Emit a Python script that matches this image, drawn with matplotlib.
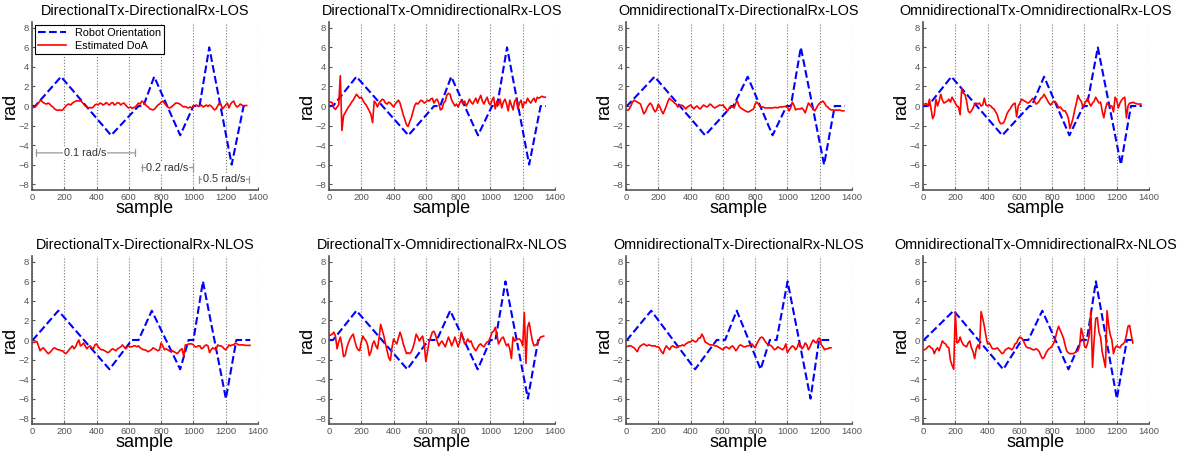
import matplotlib
matplotlib.use('Agg')
import matplotlib.pyplot as plt
import numpy as np

plt.rcParams['font.family'] = ['Liberation Sans', 'DejaVu Sans']

titles = [
    "DirectionalTx-DirectionalRx-LOS", "DirectionalTx-OmnidirectionalRx-LOS",
    "OmnidirectionalTx-DirectionalRx-LOS", "OmnidirectionalTx-OmnidirectionalRx-LOS",
    "DirectionalTx-DirectionalRx-NLOS", "DirectionalTx-OmnidirectionalRx-NLOS",
    "OmnidirectionalTx-DirectionalRx-NLOS", "OmnidirectionalTx-OmnidirectionalRx-NLOS",
]

# Robot orientation breakpoints (sample, rad)
orient_y = [0, 0, 3, -3, 0, 0, 3, -3, 0, 0, 6, -6, 0, 0]
orient_x1 = [0, 20, 180, 490, 660, 690, 757, 918, 1000, 1038, 1098, 1237, 1311, 1335]
orient_x2 = [0, 25, 170, 492, 651, 689, 757, 923, 1010, 1041, 1103, 1240, 1311, 1342]
orient_x3 = [0, 6, 177, 490, 655, 665, 754, 908, 995, 1021, 1083, 1227, 1293, 1355]
orient_x4 = [0, 31, 176, 491, 659, 673, 750, 907, 994, 1015, 1083, 1226, 1288, 1355]
orient_x5 = [0, 5, 163, 480, 618, 660, 742, 918, 970, 1000, 1059, 1201, 1266, 1352]
orient_x6 = [0, 25, 170, 485, 616, 668, 751, 921, 1000, 1031, 1093, 1232, 1296, 1325]
orient_x7 = [0, 6, 156, 428, 562, 614, 686, 834, 891, 933, 1001, 1143, 1196, 1272]
orient_x8 = [0, 5, 190, 497, 611, 652, 739, 901, 980, 1015, 1071, 1201, 1263, 1294]

# Estimated DoA (rad), one value every 10 samples
DOA_STEP = 10
doa1 = [-0.2,-0.15,-0.1,0.1,0.3,0.55,0.5,0.35,0.25,0.2,
        0.3,0.2,0.0,-0.1,-0.3,-0.4,-0.45,-0.4,-0.45,-0.4,
        -0.2,0.0,0.15,0.2,0.1,0.3,0.4,0.5,0.55,0.5,
        0.55,0.4,0.2,0.0,-0.1,-0.2,-0.15,-0.2,-0.1,0.1,
        0.2,0.1,0.3,0.25,0.1,0.2,0.35,0.2,0.1,0.3,
        0.35,0.1,0.2,0.35,0.3,0.1,0.25,0.3,0.1,-0.1,
        -0.2,-0.1,-0.25,-0.15,-0.1,0.1,0.3,0.2,0.5,0.4,
        0.2,0.0,-0.1,-0.3,-0.35,-0.4,-0.3,-0.1,0.1,0.2,
        0.4,0.5,0.3,0.1,-0.1,-0.2,-0.15,0.0,0.15,0.3,
        0.3,0.25,0.15,0.0,-0.1,-0.05,-0.15,-0.2,-0.1,-0.2,
        0.0,0.05,0.1,-0.05,0.0,0.1,-0.1,0.0,0.1,-0.05,
        0.1,0.0,-0.2,-0.4,-0.3,0.0,0.3,0.2,-0.3,-0.1,
        0.1,0.3,-0.2,0.2,0.4,0.5,0.1,-0.1,0.0,0.2,
        0.1,0.0,0.05,0.05]
doa2 = [0.45,0.4,0.35,-0.2,-0.35,-0.1,0.1,3.1,-2.5,-1.0,
        -0.7,-0.4,-0.1,0.1,0.4,0.6,0.9,1.2,1.0,0.8,
        0.9,0.6,0.3,0.1,-0.2,-0.5,-0.9,-1.7,0.5,0.3,
        -0.1,0.3,0.5,0.7,0.6,0.3,0.2,0.4,0.3,0.1,
        -0.1,0.2,0.4,0.6,0.3,-0.3,-0.9,-1.4,-1.9,-2.1,
        -1.6,-1.2,-0.6,0.0,0.3,0.2,0.4,0.6,0.5,0.3,
        0.4,0.6,0.5,0.7,0.8,0.3,0.6,0.7,0.3,-0.4,
        -0.3,0.3,0.5,1.1,1.3,1.2,0.6,0.3,0.0,0.2,
        -0.1,0.3,0.6,0.2,0.5,0.0,0.3,0.7,0.4,0.2,
        0.5,0.8,0.3,0.7,1.1,0.5,0.2,0.6,0.9,0.3,
        0.1,0.6,0.9,-0.3,0.5,0.1,0.7,-0.2,0.4,0.7,
        0.2,-0.5,0.6,0.1,-0.4,0.5,0.7,-0.3,0.3,0.6,
        -0.2,0.4,0.3,0.8,0.5,0.3,0.6,0.8,0.4,0.9,
        0.8,0.9,1.0,0.9,0.9]
doa3 = [-0.4,-0.45,-0.3,0.0,0.4,0.6,0.5,0.4,0.3,0.2,
        -0.3,-0.8,-0.6,-0.2,0.1,0.3,0.1,-0.3,-0.6,-0.4,
        0.2,-0.1,-0.5,-0.8,-0.4,0.0,0.5,0.8,0.6,0.5,
        0.3,0.2,-0.1,0.0,0.1,0.05,-0.1,-0.3,-0.1,0.0,
        0.1,-0.1,-0.3,-0.1,0.0,-0.2,-0.3,-0.1,0.1,0.0,
        -0.1,0.0,0.2,0.1,-0.1,-0.2,-0.1,0.0,0.1,0.05,
        0.1,-0.1,-0.3,-0.5,-0.2,0.0,-0.1,-0.2,0.3,0.5,
        0.0,-0.2,-0.3,-0.4,-0.5,-0.6,-0.6,-0.5,-0.4,-0.3,
        0.2,0.4,0.2,0.0,-0.1,-0.1,-0.2,-0.2,-0.2,-0.2,
        -0.2,-0.2,-0.15,-0.15,-0.2,-0.1,-0.1,-0.1,-0.05,-0.05,
        -0.1,-0.5,-0.2,0.4,0.1,-0.4,-0.3,-0.3,-0.3,-0.2,
        -0.4,-0.7,-0.2,0.3,0.1,-0.1,-0.3,-0.5,-0.2,0.1,
        0.3,0.4,0.5,0.3,0.0,-0.1,-0.3,-0.4,-0.4,-0.45,
        -0.4,-0.45,-0.4,-0.45,-0.5,-0.5]
doa4 = [0.2,0.2,0.25,0.0,0.7,-0.3,-1.3,-0.9,0.7,0.0,
        0.5,1.2,0.6,0.3,0.4,0.5,0.7,0.4,0.9,0.6,
        0.3,0.0,-0.1,-0.9,1.8,1.3,1.2,0.5,-0.5,-0.7,
        -0.5,-0.2,0.2,0.3,0.2,0.3,0.0,0.1,0.8,0.1,
        0.0,0.1,0.0,-0.2,-0.3,-0.6,-0.9,-1.5,-1.8,-1.8,
        -1.7,-1.3,-0.8,-0.5,-0.3,0.0,0.2,0.3,-1.1,0.0,
        0.3,0.7,0.6,0.5,0.4,0.3,0.4,0.6,0.8,0.5,
        0.2,0.3,0.5,0.8,0.9,1.2,0.9,0.6,0.3,0.1,
        0.3,0.5,0.4,0.2,-0.2,-0.1,-0.3,-0.5,-0.5,-0.8,
        -1.2,-2.3,-1.8,-1.2,-0.4,0.3,1.1,0.7,0.5,-0.1,
        0.2,0.5,0.8,0.3,0.0,0.3,0.5,0.9,0.6,0.3,
        0.4,-0.5,-1.2,-0.3,0.3,0.1,0.0,0.0,-0.6,0.9,
        0.6,-0.2,0.3,0.6,0.8,0.9,-1.2,0.0,0.3,0.3,
        0.4,0.3,0.25,0.2,0.2,0.2]
doa5 = [-0.3,-0.25,-0.2,-0.15,-0.6,-1.1,-0.9,-0.8,-1.0,-1.2,
        -1.4,-1.3,-1.1,-0.9,-0.8,-0.9,-1.0,-1.0,-1.1,-1.1,
        -1.3,-1.4,-1.2,-1.0,-0.8,-0.6,-0.9,-0.7,-0.3,0.0,
        -0.6,-0.5,-0.3,-0.6,-0.9,-0.7,-0.6,-0.8,-0.9,-0.5,
        -0.4,-0.7,-0.9,-1.0,-1.0,-1.1,-1.2,-1.3,-1.2,-1.0,
        -0.9,-1.0,-1.1,-0.9,-0.8,-0.7,-0.5,-0.7,-0.9,-0.7,
        -0.6,-0.7,-0.7,-0.6,-0.6,-0.7,-0.6,-0.8,-0.9,-1.0,
        -1.0,-1.1,-1.2,-1.1,-1.0,-0.8,-0.9,-1.0,-1.1,-1.0,
        -0.3,-0.6,-1.0,-0.9,-1.0,-1.1,-1.2,-1.1,-1.2,-1.3,
        -1.4,-1.2,-1.0,-0.9,-1.7,-0.5,-0.5,-0.4,-0.4,-0.4,
        -0.5,-0.7,-0.7,-0.6,-0.6,-0.9,-0.8,-0.6,-0.5,-0.6,
        -1.3,-1.0,-0.8,-0.9,-1.0,-0.5,-0.6,-0.6,-0.7,-0.9,
        -1.0,-0.8,-0.5,-0.6,-0.5,-0.5,-0.3,-0.4,-0.5,-0.5,
        -0.5,-0.5,-0.55,-0.55,-0.55,-0.55]
doa6 = [0.45,0.5,0.6,0.8,0.4,-0.9,-0.2,0.3,-0.5,-1.7,
        -1.6,-0.8,-0.3,0.1,0.4,0.6,-0.1,-0.7,-1.0,-1.1,
        -0.2,0.4,0.1,-0.1,-0.6,-1.6,-1.2,-0.4,-0.1,-0.6,
        -0.9,0.2,1.6,1.0,0.4,-0.4,-1.1,-1.8,-2.1,-0.8,
        0.1,-0.2,-0.4,0.2,0.8,0.3,-0.4,-0.9,-1.4,-1.3,
        -1.4,-1.2,-0.8,-0.2,0.6,0.3,-0.1,0.2,0.4,-0.5,
        -2.2,-1.2,-0.2,0.3,0.8,0.9,0.5,-0.1,-0.6,-0.3,
        -0.1,-0.4,-0.7,-0.2,0.3,-0.1,-0.6,-0.2,0.3,-0.2,
        -0.7,-0.2,0.8,0.2,-0.4,-0.2,0.1,-0.2,-0.1,-0.6,
        -0.9,-1.1,-0.8,-0.5,-0.4,-0.6,-0.7,-0.4,-0.2,-0.1,
        0.3,0.8,0.9,1.3,0.6,-0.4,-0.1,0.2,0.3,-0.2,
        -0.6,-0.4,-0.9,-1.9,0.3,-0.1,0.0,0.1,0.1,-0.1,
        -0.6,2.8,-2.4,1.3,1.8,0.8,-0.1,-0.6,-0.5,-0.4,
        0.0,0.3,0.35,0.4]
doa7 = [-0.7,-0.65,-0.6,-0.6,-0.7,-0.8,-1.0,-1.2,-0.8,-0.6,
        -0.5,-0.4,-0.5,-0.6,-0.5,-0.55,-0.6,-0.6,-0.6,-0.7,
        -0.7,-0.9,-1.2,-1.4,-0.9,-0.6,-0.8,-1.0,-0.7,-0.6,
        -0.7,-0.8,-0.7,-0.6,-0.6,-0.5,-0.6,-0.4,-0.3,-0.2,
        -0.2,0.0,-0.1,-0.2,-0.1,0.2,0.2,0.6,0.3,-0.2,
        -0.3,-0.4,-0.5,-0.5,-0.5,-0.6,-0.6,-0.7,-0.8,-0.9,
        -1.0,-0.8,-0.7,-0.8,-0.9,-0.7,-0.6,-0.8,-1.1,-0.9,
        -0.6,-0.5,-0.6,-0.7,-0.7,-0.6,-0.6,-0.5,-0.4,-0.6,
        -0.8,-0.4,-0.1,0.2,0.3,0.2,-0.1,-0.3,-0.5,-0.5,
        -0.6,-0.8,-1.0,-0.9,-0.7,-0.8,-0.9,-1.0,-0.8,-0.4,
        -1.3,-1.0,-0.8,-0.6,-0.7,-1.0,-0.8,-0.3,-0.5,-0.9,
        -0.7,-0.3,-0.5,-1.0,-0.7,-0.3,0.0,-0.2,-0.3,0.1,
        0.2,-0.5,-0.7,-1.0,-0.9,-0.9,-0.8,-0.8]
doa8 = [-1.0,-1.0,-0.9,-0.7,-0.6,-0.8,-0.9,-1.4,-1.0,-0.8,
        -1.1,-0.6,-0.1,-0.3,-0.4,-0.7,-0.8,-2.1,-2.6,-3.0,
        2.9,-0.3,-0.2,0.3,-0.2,-0.5,-0.6,-0.7,-0.3,-0.1,
        -0.8,-1.2,-1.9,-0.9,-0.5,-0.9,2.9,2.2,1.4,0.4,
        -0.4,-0.3,-0.6,-0.9,-0.9,-0.9,-0.8,-1.0,-1.2,-1.4,
        -1.3,-1.0,-0.9,-0.8,-0.9,-1.0,-0.8,-0.4,-0.3,0.1,
        0.3,0.2,0.0,-0.4,-0.7,-0.8,-0.8,-0.9,-1.0,-1.0,
        -0.9,-1.0,-1.2,-1.6,-1.9,-1.8,-1.4,-1.1,-0.9,-0.8,
        -0.6,-0.3,0.2,0.9,1.4,1.0,0.6,0.2,-0.5,-1.1,
        -1.3,-1.4,-1.4,-1.4,-1.3,-1.2,-1.1,-0.6,1.2,0.6,
        -0.6,-0.8,-0.3,0.5,3.0,-2.8,0.0,2.2,2.3,0.8,
        0.3,-1.2,-2.0,-2.8,3.0,1.5,0.5,0.0,-1.4,-0.8,
        -0.6,-0.7,-0.8,-0.5,-0.4,-0.2,0.5,1.4,1.5,0.5,
        -0.3]

orient_xs = [orient_x1, orient_x2, orient_x3, orient_x4,
             orient_x5, orient_x6, orient_x7, orient_x8]
doas = [doa1, doa2, doa3, doa4, doa5, doa6, doa7, doa8]

xticks = [0, 200, 400, 600, 800, 1000, 1200, 1400]
yticks = [-8, -6, -4, -2, 0, 2, 4, 6, 8]

W, H = 1182, 459
fig = plt.figure(figsize=(W / 100, H / 100), dpi=100)
lefts_px = [32, 329, 626, 923]
tops_px = [22, 256]
ax_w_px, ax_h_px = 226, 168

axes = []
for i in range(8):
    r, c = divmod(i, 4)
    l = lefts_px[c] / W
    b = 1 - (tops_px[r] + ax_h_px) / H
    ax = fig.add_axes([l, b, ax_w_px / W, ax_h_px / H])
    axes.append(ax)
    ax.plot(orient_xs[i], orient_y, linestyle='--', color='#0000ff', lw=1.5,
            label='Robot Orientation')
    y = np.array(doas[i])
    x = np.arange(len(y)) * DOA_STEP
    ax.plot(x, y, color='#ff0000', lw=1.2, label='Estimated DoA')
    ax.set_xlim(0, 1400)
    ax.set_ylim(-8.6, 8.6)
    ax.set_xticks(xticks)
    ax.set_yticks(yticks)
    ax.xaxis.grid(True, linestyle=':', color='#777777', lw=0.8)
    ax.set_axisbelow(True)
    for s in ['top', 'right']:
        ax.spines[s].set_visible(False)
    for s in ['left', 'bottom']:
        ax.spines[s].set_color('#555555')
        ax.spines[s].set_linewidth(1.2)
    ax.tick_params(direction='in', length=2, width=0.8, colors='#555555',
                   labelsize=6.8, pad=2)
    ax.set_title(titles[i], fontsize=10.4, pad=5)
    ax.set_xlabel('sample', fontsize=13, labelpad=-1)
    ax.set_ylabel('rad', fontsize=13, labelpad=0)

ax0 = axes[0]
leg = ax0.legend(loc='upper left', fontsize=7.8, fancybox=False, framealpha=1,
                 edgecolor='black', handlelength=2.6, borderaxespad=0.25,
                 borderpad=0.3, labelspacing=0.3)
leg.get_frame().set_linewidth(0.8)

brackets = [(25, 635, -4.8, '0.1 rad/s'),
            (680, 997, -6.3, '0.2 rad/s'),
            (1036, 1342, -7.5, '0.5 rad/s')]
for x0, x1, yv, txt in brackets:
    ax0.annotate('', xy=(x0, yv), xytext=(x1, yv),
                 arrowprops=dict(arrowstyle='|-|', color='#999999', lw=0.9,
                                 shrinkA=0, shrinkB=0, mutation_scale=2.5))
    ax0.text((x0 + x1) / 2, yv, txt, fontsize=7.8, ha='center', va='center',
             color='#333333',
             bbox=dict(facecolor='white', edgecolor='none', pad=0.5))

fig.savefig('out.png', dpi=100)
